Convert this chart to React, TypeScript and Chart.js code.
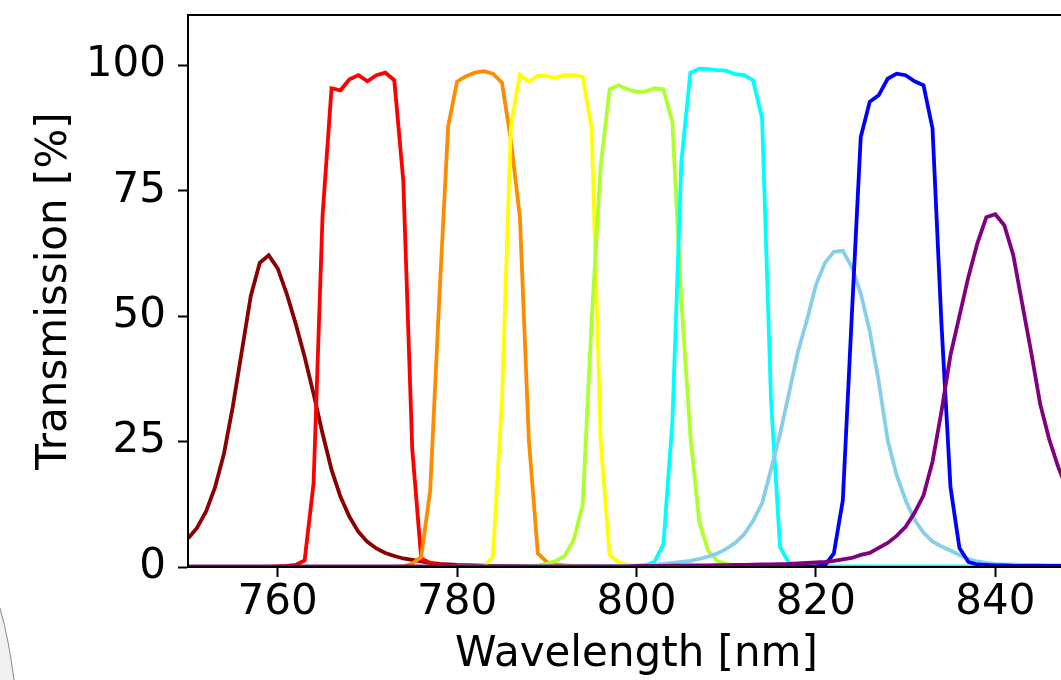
import { useEffect, useRef } from 'react';
import { Chart, registerables } from 'chart.js';

Chart.register(...registerables);

// Wavelength grid [nm]
const wavelengths = [
  750, 751, 752, 753, 754, 755, 756, 757, 758, 759,
  760, 761, 762, 763, 764, 765, 766, 767, 768, 769,
  770, 771, 772, 773, 774, 775, 776, 777, 778, 779,
  780, 781, 782, 783, 784, 785, 786, 787, 788, 789,
  790, 791, 792, 793, 794, 795, 796, 797, 798, 799,
  800, 801, 802, 803, 804, 805, 806, 807, 808, 809,
  810, 811, 812, 813, 814, 815, 816, 817, 818, 819,
  820, 821, 822, 823, 824, 825, 826, 827, 828, 829,
  830, 831, 832, 833, 834, 835, 836, 837, 838, 839,
  840, 841, 842, 843, 844, 845, 846, 847, 848, 849,
  850,
];

// Transmission [%] per filter
const darkRedT = [
  5.7, 7.8, 11, 15.8, 22.5, 32, 43, 54, 60.6, 62.1,
  59.5, 54.5, 48.5, 41.9, 34.5, 26.6, 19.4, 14, 10, 7,
  5, 3.7, 2.8, 2.2, 1.7, 1.4, 1.1, 0.8, 0.6, 0.5,
  0.4, 0.35, 0.3, 0.25, 0.2, 0.2, 0.15, 0.15, 0.1, 0.1,
  0.1, 0.1, 0.1, 0.1, 0.1, 0.1, 0.1, 0.1, 0.1, 0.1,
  0.1, 0.1, 0.1, 0.1, 0.1, 0, 0, 0, 0, 0,
  0, 0, 0, 0, 0, 0, 0, 0, 0, 0,
  0, 0, 0, 0, 0, 0, 0, 0, 0, 0,
  0, 0, 0, 0, 0, 0, 0, 0, 0, 0,
  0, 0, 0, 0, 0, 0, 0, 0, 0, 0,
  0,
];
const redT = [
  0, 0, 0, 0, 0, 0, 0, 0, 0, 0,
  0.1, 0.2, 0.4, 1.3, 16.7, 70, 95.4, 95.0, 97.2, 98.0,
  96.8, 98.0, 98.5, 97.0, 77, 23.5, 1.7, 0.8, 0.4, 0.2,
  0.1, 0.1, 0, 0, 0, 0, 0, 0, 0, 0,
  0, 0, 0, 0, 0, 0, 0, 0, 0, 0,
  0, 0, 0, 0, 0, 0, 0, 0, 0, 0,
  0, 0, 0, 0, 0, 0, 0, 0, 0, 0,
  0, 0, 0, 0, 0, 0, 0, 0, 0, 0,
  0, 0, 0, 0, 0, 0, 0, 0, 0, 0,
  0, 0, 0, 0, 0, 0, 0, 0, 0, 0,
  0,
];
const orangeT = [
  0, 0, 0, 0, 0, 0, 0, 0, 0, 0,
  0, 0, 0, 0, 0, 0, 0, 0, 0, 0,
  0, 0, 0, 0, 0.1, 0.7, 2, 15.3, 53, 87.8,
  96.7, 97.8, 98.5, 98.8, 98.3, 96.5, 85, 69.7, 25.3, 2.7,
  1.0, 0.5, 0.3, 0.2, 0.1, 0, 0, 0, 0, 0,
  0, 0, 0, 0, 0, 0, 0, 0, 0, 0,
  0, 0, 0, 0, 0, 0, 0, 0, 0, 0,
  0, 0, 0, 0, 0, 0, 0, 0, 0, 0,
  0, 0, 0, 0, 0, 0, 0, 0, 0, 0,
  0, 0, 0, 0, 0, 0, 0, 0, 0, 0,
  0,
];
const yellowT = [
  0, 0, 0, 0, 0, 0, 0, 0, 0, 0,
  0, 0, 0, 0, 0, 0, 0, 0, 0, 0,
  0, 0, 0, 0, 0, 0, 0, 0, 0, 0,
  0, 0, 0, 0.1, 2.1, 33, 88, 98.1, 96.7, 97.9,
  97.8, 97.5, 98, 98, 97.7, 87.4, 25.3, 2.4, 1.0, 0.4,
  0.2, 0.1, 0, 0, 0, 0, 0, 0, 0, 0,
  0, 0, 0, 0, 0, 0, 0, 0, 0, 0,
  0, 0, 0, 0, 0, 0, 0, 0, 0, 0,
  0, 0, 0, 0, 0, 0, 0, 0, 0, 0,
  0, 0, 0, 0, 0, 0, 0, 0, 0, 0,
  0,
];
const greenYellowT = [
  0, 0, 0, 0, 0, 0, 0, 0, 0, 0,
  0, 0, 0, 0, 0, 0, 0, 0, 0, 0,
  0, 0, 0, 0, 0, 0, 0, 0, 0, 0,
  0, 0, 0, 0, 0, 0, 0, 0, 0.1, 0.3,
  0.7, 1.2, 2.2, 5.4, 12.4, 49, 79.8, 95.2, 96.0, 95.2,
  94.7, 94.8, 95.4, 95.2, 88.7, 53, 26.3, 9, 3.2, 1.2,
  0.6, 0.3, 0.2, 0.1, 0, 0, 0, 0, 0, 0,
  0, 0, 0, 0, 0, 0, 0, 0, 0, 0,
  0, 0, 0, 0, 0, 0, 0, 0, 0, 0,
  0, 0, 0, 0, 0, 0, 0, 0, 0, 0,
  0,
];
const cyanT = [
  0, 0, 0, 0, 0, 0, 0, 0, 0, 0,
  0, 0, 0, 0, 0, 0, 0, 0, 0, 0,
  0, 0, 0, 0, 0, 0, 0, 0, 0, 0,
  0, 0, 0, 0, 0, 0, 0, 0, 0, 0,
  0, 0, 0, 0, 0, 0, 0, 0, 0, 0,
  0.2, 0.4, 1.0, 4.5, 29, 80.7, 98.5, 99.3, 99.2, 99.0,
  98.9, 98.2, 98.0, 97.0, 89.4, 33, 4, 0.8, 0.4, 0.2,
  0.1, 0.1, 0.1, 0.1, 0.1, 0.1, 0.1, 0.1, 0.1, 0.1,
  0.1, 0.1, 0.1, 0.1, 0.1, 0.1, 0.1, 0.1, 0.1, 0.1,
  0.1, 0.1, 0.1, 0.1, 0.1, 0.1, 0.1, 0.1, 0.1, 0.1,
  0.1,
];
const skyBlueT = [
  0, 0, 0, 0, 0, 0, 0, 0, 0, 0,
  0, 0, 0, 0, 0, 0, 0, 0, 0, 0,
  0, 0, 0, 0, 0, 0, 0, 0, 0, 0,
  0.1, 0.1, 0.1, 0.1, 0.1, 0.1, 0.1, 0.1, 0.1, 0.1,
  0.1, 0.1, 0.1, 0.1, 0.1, 0.1, 0.15, 0.15, 0.2, 0.2,
  0.2, 0.3, 0.4, 0.6, 0.8, 1.0, 1.2, 1.6, 2.1, 2.7,
  3.6, 4.8, 6.5, 9.2, 12.7, 19.5, 26.5, 34.6, 42.9, 49.2,
  56.2, 60.6, 62.8, 63.0, 59.8, 54.5, 47, 37, 25.3, 18.3,
  13.3, 9.4, 6.8, 5.1, 4.1, 3.3, 2.4, 1.6, 1.1, 0.8,
  0.6, 0.5, 0.5, 0.4, 0.4, 0.4, 0.3, 0.3, 0.3, 0.3,
  0.3,
];
const blueT = [
  0, 0, 0, 0, 0, 0, 0, 0, 0, 0,
  0, 0, 0, 0, 0, 0, 0, 0, 0, 0,
  0, 0, 0, 0, 0, 0, 0, 0, 0, 0,
  0, 0, 0, 0, 0, 0, 0, 0, 0, 0,
  0, 0, 0, 0, 0, 0, 0, 0, 0, 0,
  0, 0, 0, 0, 0, 0, 0, 0, 0, 0,
  0, 0, 0, 0, 0, 0, 0, 0, 0, 0,
  0.1, 0.3, 2.7, 13.3, 50, 85.7, 92.7, 94.0, 97.3, 98.3,
  98.0, 96.8, 96.0, 87.4, 48.4, 16, 3.8, 1.0, 0.5, 0.4,
  0.3, 0.3, 0.2, 0.2, 0.2, 0.2, 0.2, 0.2, 0.2, 0.2,
  0.2,
];
const purpleT = [
  0.1, 0.1, 0.1, 0.1, 0.1, 0.1, 0.1, 0.1, 0.1, 0.1,
  0.1, 0.1, 0.1, 0.1, 0.1, 0.1, 0.1, 0.1, 0.1, 0.1,
  0.1, 0.1, 0.1, 0.1, 0.1, 0.1, 0.1, 0.1, 0.1, 0.1,
  0.1, 0.1, 0.1, 0.1, 0.1, 0.1, 0.1, 0.1, 0.1, 0.1,
  0.1, 0.1, 0.1, 0.1, 0.1, 0.1, 0.1, 0.1, 0.1, 0.1,
  0.2, 0.2, 0.2, 0.2, 0.25, 0.25, 0.3, 0.3, 0.3, 0.35,
  0.35, 0.4, 0.4, 0.45, 0.5, 0.5, 0.55, 0.6, 0.7, 0.8,
  0.9, 1.0, 1.2, 1.5, 1.8, 2.4, 2.8, 3.8, 4.8, 6.2,
  8, 10.8, 14.3, 21, 31, 42.2, 50, 57.8, 64.5, 69.7,
  70.3, 68.1, 62.2, 52.5, 42.8, 32.5, 25.5, 20, 15.5, 12,
  9,
];

const seriesList = [
  { name: 'F1', color: '#8B0000', values: darkRedT },
  { name: 'F2', color: '#FF0000', values: redT },
  { name: 'F3', color: '#FF8C00', values: orangeT },
  { name: 'F4', color: '#FFFF00', values: yellowT },
  { name: 'F5', color: '#ADFF2F', values: greenYellowT },
  { name: 'F6', color: '#00FFFF', values: cyanT },
  { name: 'F7', color: '#87CEEB', values: skyBlueT },
  { name: 'F8', color: '#0000FF', values: blueT },
  { name: 'F9', color: '#800080', values: purpleT },
];

const xTicks = [760, 780, 800, 820, 840];
const yTicks = [0, 25, 50, 75, 100];
const xLabel = 'Wavelength [nm]';
const yLabel = 'Transmission [%]';

const FONT = "'DejaVu Sans', 'Liberation Sans', sans-serif";
const FS = 42;

const framePlugin = {
  id: 'frame',
  beforeDraw(chart: any) {
    const ctx = chart.ctx;
    ctx.save();
    // faint decorative arc at bottom-left
    ctx.beginPath();
    ctx.moveTo(0, 608);
    ctx.quadraticCurveTo(9, 640, 14, 680);
    ctx.lineTo(0, 680);
    ctx.closePath();
    ctx.fillStyle = '#f0f0f0';
    ctx.fill();
    ctx.beginPath();
    ctx.moveTo(0, 608);
    ctx.quadraticCurveTo(9, 640, 14, 680);
    ctx.strokeStyle = '#8a8a8a';
    ctx.lineWidth = 1;
    ctx.stroke();
    ctx.restore();
  },
  afterDraw(chart: any) {
    const { left, top, right, bottom } = chart.chartArea;
    const ctx = chart.ctx;
    ctx.save();
    ctx.strokeStyle = '#000';
    ctx.lineWidth = 2;
    ctx.strokeRect(left, top, right - left, bottom - top);
    ctx.restore();
  },
};

export default function App() {
  const ref = useRef<HTMLCanvasElement | null>(null);

  useEffect(() => {
    if (!ref.current) return;
    const datasets = seriesList.map((s, i) => ({
      label: s.name,
      data: wavelengths.map((w, j) => ({ x: w, y: s.values[j] })),
      borderColor: s.color,
      backgroundColor: s.color,
      borderWidth: 3.8,
      pointRadius: 0,
      tension: 0,
      fill: false,
      order: seriesList.length - i,
    }));

    const chart = new Chart(ref.current, {
      type: 'line',
      data: { datasets },
      plugins: [framePlugin],
      options: {
        responsive: false,
        animation: false,
        events: [],
        layout: { padding: { top: 15, right: 15, left: 0, bottom: 0 } },
        plugins: { legend: { display: false }, tooltip: { enabled: false } },
        scales: {
          x: {
            type: 'linear',
            min: 750,
            max: 850,
            afterBuildTicks: (s: any) => {
              s.ticks = xTicks.map((v) => ({ value: v }));
            },
            afterFit: (s: any) => {
              s.height = 113;
              s.paddingLeft = 0;
              s.paddingRight = 0;
            },
            ticks: {
              font: { family: FONT, size: FS },
              color: '#000',
              padding: 1,
              maxRotation: 0,
              autoSkip: false,
            },
            grid: {
              drawOnChartArea: false,
              drawTicks: true,
              tickLength: 10,
              tickWidth: 2,
              tickColor: '#000',
            },
            border: { display: true, color: '#000', width: 2 },
            title: {
              display: true,
              text: xLabel,
              font: { family: FONT, size: FS },
              color: '#000',
              padding: { top: 0, bottom: 0 },
            },
          },
          y: {
            type: 'linear',
            min: 0,
            max: 110,
            afterBuildTicks: (s: any) => {
              s.ticks = yTicks.map((v) => ({ value: v }));
            },
            afterFit: (s: any) => {
              s.width = 188;
              s.paddingTop = 0;
              s.paddingBottom = 0;
            },
            ticks: {
              font: { family: FONT, size: FS },
              color: '#000',
              padding: 12,
              autoSkip: false,
            },
            grid: {
              drawOnChartArea: false,
              drawTicks: true,
              tickLength: 10,
              tickWidth: 2,
              tickColor: '#000',
            },
            border: { display: true, color: '#000', width: 2 },
            title: {
              display: true,
              text: yLabel,
              font: { family: FONT, size: FS },
              color: '#000',
              padding: { top: 30, bottom: 0 },
            },
          },
        },
      },
    });
    return () => chart.destroy();
  }, []);

  return (
    <div
      style={{
        position: 'fixed',
        left: 0,
        top: 0,
        width: 1061,
        height: 680,
        overflow: 'hidden',
        background: '#fff',
      }}
    >
      <canvas ref={ref} width={1100} height={680} style={{ display: 'block', width: 1100, height: 680 }} />
    </div>
  );
}
